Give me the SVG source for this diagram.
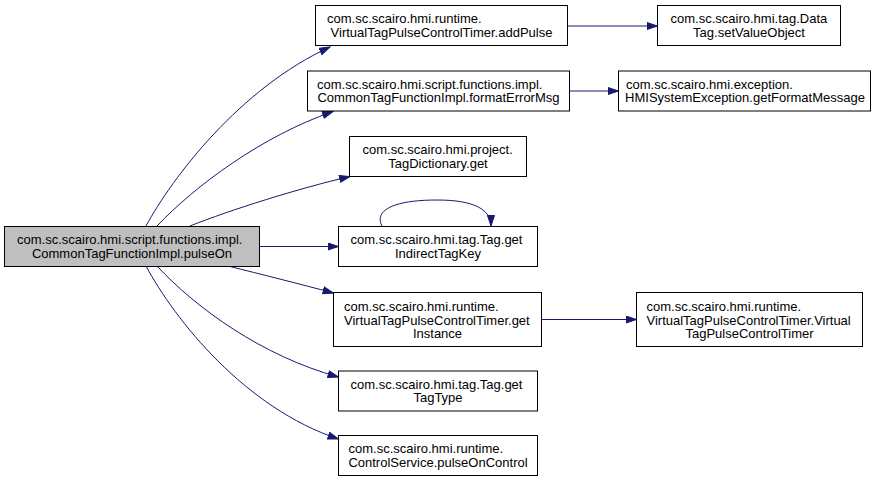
<svg xmlns="http://www.w3.org/2000/svg" width="887" height="484" viewBox="0 0 887 484">
<style>
  .node rect { fill: #ffffff; stroke: #000000; stroke-width: 1; }
  .node.main rect { fill: #bfbfbf; }
  .node text { font-family: "Liberation Sans", Arial, sans-serif; font-size: 13px; fill: #000000; }
  .node text.c { text-anchor: middle; }
  .edges path { fill: none; stroke: #191970; stroke-width: 1; marker-end: url(#arr); }
</style>
<defs>
  <marker id="arr" markerWidth="12" markerHeight="9" refX="11" refY="4" orient="auto" markerUnits="userSpaceOnUse">
    <path d="M0.5,0.5 L11,4 L0.5,7.5 z" fill="#191970" stroke="#191970" stroke-width="1"/>
  </marker>
</defs>
<rect x="0" y="0" width="887" height="484" fill="#ffffff"/>

<g id="edges" class="edges">
  <path d="M146,226 C172,178 240,88 330,47"/>
  <path d="M157,226 C195,186 262,136 333,111.5"/>
  <path d="M190,226 C230,210 300,188 350,176.5"/>
  <path d="M259.5,246.5 L338.5,246.5"/>
  <path d="M228,266 C260,274 300,284 333.5,293"/>
  <path d="M157,266 C196,308 262,356 338.5,377"/>
  <path d="M146,266 C175,320 245,408 338.5,439"/>
  <path d="M382,226 C374,211 392,200 437,200 C475,200 491,210 491,226"/>
  <path d="M567.5,26 L657.5,26"/>
  <path d="M569.5,91 L618.5,91"/>
  <path d="M541.5,319.5 L636.5,319.5"/>
</g>

<g id="node-main" class="node main">
  <rect x="4.5" y="226.5" width="255" height="40"/>
  <text x="17" y="244">com.sc.scairo.hmi.script.functions.impl.</text>
  <text class="c" x="132" y="257.5">CommonTagFunctionImpl.pulseOn</text>
</g>

<g id="node-addPulse" class="node">
  <rect x="315.5" y="5.5" width="252" height="40"/>
  <text x="327" y="23">com.sc.scairo.hmi.runtime.</text>
  <text class="c" x="441.5" y="36.5">VirtualTagPulseControlTimer.addPulse</text>
</g>

<g id="node-formatErrorMsg" class="node">
  <rect x="307.5" y="71" width="262" height="40"/>
  <text x="317" y="88.5">com.sc.scairo.hmi.script.functions.impl.</text>
  <text class="c" x="438.5" y="102">CommonTagFunctionImpl.formatErrorMsg</text>
</g>

<g id="node-tagDictionaryGet" class="node">
  <rect x="349.5" y="136.5" width="177" height="40"/>
  <text x="362.5" y="154">com.sc.scairo.hmi.project.</text>
  <text class="c" x="438" y="167.5">TagDictionary.get</text>
</g>

<g id="node-getIndirectTagKey" class="node">
  <rect x="338.5" y="226.5" width="199" height="40"/>
  <text x="350.5" y="244">com.sc.scairo.hmi.tag.Tag.get</text>
  <text class="c" x="438" y="257.5">IndirectTagKey</text>
</g>

<g id="node-getInstance" class="node">
  <rect x="333.5" y="292.5" width="208" height="54"/>
  <text x="344" y="311">com.sc.scairo.hmi.runtime.</text>
  <text x="344" y="324.5">VirtualTagPulseControlTimer.get</text>
  <text class="c" x="437.5" y="338">Instance</text>
</g>

<g id="node-getTagType" class="node">
  <rect x="338.5" y="371" width="199" height="40"/>
  <text x="350.5" y="388.5">com.sc.scairo.hmi.tag.Tag.get</text>
  <text class="c" x="438" y="402">TagType</text>
</g>

<g id="node-pulseOnControl" class="node">
  <rect x="338.5" y="435.5" width="199" height="40"/>
  <text x="348.5" y="453">com.sc.scairo.hmi.runtime.</text>
  <text class="c" x="438" y="466.5">ControlService.pulseOnControl</text>
</g>

<g id="node-setValueObject" class="node">
  <rect x="657.5" y="5.5" width="183" height="40"/>
  <text x="670.5" y="23">com.sc.scairo.hmi.tag.Data</text>
  <text class="c" x="749" y="36.5">Tag.setValueObject</text>
</g>

<g id="node-getFormatMessage" class="node">
  <rect x="618.5" y="71" width="252" height="40"/>
  <text x="626" y="88.5">com.sc.scairo.hmi.exception.</text>
  <text class="c" x="745" y="102">HMISystemException.getFormatMessage</text>
</g>

<g id="node-timerConstructor" class="node">
  <rect x="636.5" y="292.5" width="226" height="54"/>
  <text x="646.5" y="311">com.sc.scairo.hmi.runtime.</text>
  <text x="646.5" y="324.5">VirtualTagPulseControlTimer.Virtual</text>
  <text class="c" x="749.5" y="338">TagPulseControlTimer</text>
</g>
</svg>
